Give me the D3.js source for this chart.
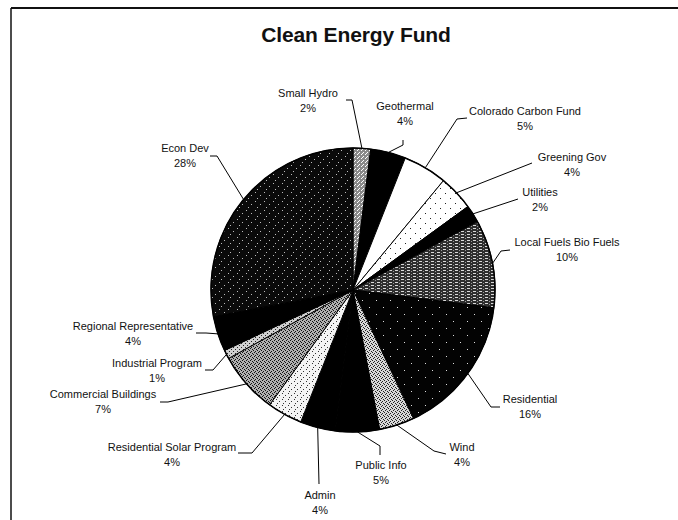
<!DOCTYPE html>
<html>
<head>
<meta charset="utf-8">
<script src="https://cdn.jsdelivr.net/npm/d3@7"></script>
<style>
  html, body { margin: 0; padding: 0; background: #fff; }
  svg { display: block; }
  text { font-family: "Liberation Sans", Arial, Helvetica, sans-serif; fill: #111; }
</style>
</head>
<body>
<svg id="chart" width="678" height="520"></svg>
<script>
// ---- data ----
const categories = ["Small Hydro", "Geothermal", "Colorado Carbon Fund", "Greening Gov", "Utilities",
  "Local Fuels Bio Fuels", "Residential", "Wind", "Public Info", "Admin",
  "Residential Solar Program", "Commercial Buildings", "Industrial Program",
  "Regional Representative", "Econ Dev"];
const values = [2, 4, 5, 4, 2, 10, 16, 4, 5, 4, 4, 7, 1, 4, 28];
const percentLabels = ["2%", "4%", "5%", "4%", "2%", "10%", "16%", "4%", "5%", "4%", "4%", "7%", "1%", "4%", "28%"];
const title = "Clean Energy Fund";

// ---- styles / layout (not data) ----
const fills = ["url(#pSmallHydro)", "#000", "#fff", "url(#pGreening)", "#000",
  "url(#pLocal)", "url(#pResid)", "url(#pWind)", "#000", "#000",
  "url(#pSolar)", "url(#pCommercial)", "url(#pIndustrial)", "#000", "url(#pEcon)"];
// label text center x, first baseline y, leader polyline start points (end computed on pie edge)
const labelLayout = [
  {x: 308, y: 97,  pts: [[346,100],[352,100]]},
  {x: 405, y: 110, pts: [[403,140],[403,145]]},
  {x: 525, y: 115, pts: [[467,118],[457,119]]},
  {x: 572, y: 161, pts: [[532,163]]},
  {x: 540, y: 196, pts: [[518,199]]},
  {x: 567, y: 246, pts: [[510,250],[501,251]]},
  {x: 530, y: 403, pts: [[500,407],[491,407]]},
  {x: 462, y: 451, pts: [[446,454],[434,451]]},
  {x: 381, y: 469, pts: [[380,455],[380,446]]},
  {x: 320, y: 499, pts: [[319,484]]},
  {x: 172, y: 451, pts: [[238,453],[252,453]]},
  {x: 103, y: 398, pts: [[160,402],[168,402]]},
  {x: 157, y: 367, pts: [[205,370],[213,370]]},
  {x: 133, y: 330, pts: [[196,333],[206,333]]},
  {x: 185, y: 152, pts: [[210,156],[217,156]]}
];

const W = 678, H = 520;
const cx = 353, cy = 290, R = 142;

const svg = d3.select("#chart");

// ---- patterns (stipple textures) ----
const defs = svg.append("defs");
function makeDots(id, size, bg, fg, dots, r) {
  const p = defs.append("pattern").attr("id", id).attr("patternUnits", "userSpaceOnUse")
    .attr("width", size).attr("height", size);
  p.append("rect").attr("width", size).attr("height", size).attr("fill", bg);
  dots.forEach(([x, y]) => p.append("rect").attr("x", x).attr("y", y)
    .attr("width", r).attr("height", r).attr("fill", fg));
}
makeDots("pEcon", 9, "#0a0a0a", "#bbb", [[1,1],[6,4],[3,7]], 1);
makeDots("pResid", 14, "#030303", "#ddd", [[2,3],[9,10]], 1);
makeDots("pSmallHydro", 4, "#8a8a8a", "#fff", [[0,0],[2,2],[1,3]], 1);
makeDots("pWind", 4, "#d8d8d8", "#222", [[0,0],[2,1],[1,3],[3,2]], 1);
makeDots("pCommercial", 4, "#b0b0b0", "#111", [[0,0],[2,1],[1,2],[3,3]], 1);
makeDots("pIndustrial", 4, "#d0d0d0", "#222", [[0,1],[2,3]], 1);
makeDots("pSolar", 6, "#f4f4f4", "#333", [[1,1],[4,3],[2,5]], 1);
makeDots("pGreening", 10, "#fff", "#222", [[2,3],[7,8]], 1);
// Local fuels: dark grey with horizontal white streaks
(function () {
  const p = defs.append("pattern").attr("id", "pLocal").attr("patternUnits", "userSpaceOnUse")
    .attr("width", 6).attr("height", 3);
  p.append("rect").attr("width", 6).attr("height", 3).attr("fill", "#2e2e2e");
  p.append("rect").attr("x", 0).attr("y", 1).attr("width", 3).attr("height", 1).attr("fill", "#d8d8d8");
  p.append("rect").attr("x", 4).attr("y", 2).attr("width", 1).attr("height", 1).attr("fill", "#999");
})();

// ---- frame ----
svg.append("line").attr("x1", 11).attr("y1", 8).attr("x2", W).attr("y2", 8)
  .attr("stroke", "#111").attr("stroke-width", 2);
svg.append("line").attr("x1", 11).attr("y1", 8).attr("x2", 11).attr("y2", H)
  .attr("stroke", "#111").attr("stroke-width", 1.5);

// ---- title ----
svg.append("text").attr("x", 356).attr("y", 42).attr("text-anchor", "middle")
  .attr("font-size", 21).attr("font-weight", "bold").attr("letter-spacing", "-0.1")
  .text(title);

// ---- pie ----
const pie = d3.pie().sort(null).value(d => d)
  .startAngle(0).endAngle(2 * Math.PI);
const arcs = pie(values);
const arc = d3.arc().innerRadius(0).outerRadius(R);

const g = svg.append("g").attr("transform", `translate(${cx},${cy})`);
g.selectAll("path.slice").data(arcs).enter().append("path")
  .attr("class", "slice")
  .attr("d", arc)
  .attr("fill", (d, i) => fills[i])
  .attr("stroke", "#000").attr("stroke-width", 1);
g.append("circle").attr("r", R).attr("fill", "none").attr("stroke", "#000").attr("stroke-width", 1.5);

// ---- leaders ----
const line = d3.line();
arcs.forEach((d, i) => {
  const mid = (d.startAngle + d.endAngle) / 2;
  const edge = [cx + R * Math.sin(mid), cy - R * Math.cos(mid)];
  const pts = labelLayout[i].pts.concat([edge]);
  svg.append("path").attr("d", line(pts)).attr("fill", "none")
    .attr("stroke", "#000").attr("stroke-width", 1);
});

// ---- labels ----
categories.forEach((name, i) => {
  const L = labelLayout[i];
  const t = svg.append("text").attr("text-anchor", "middle").attr("font-size", 11);
  t.append("tspan").attr("x", L.x).attr("y", L.y).text(name);
  t.append("tspan").attr("x", L.x).attr("y", L.y + 15).text(percentLabels[i]);
});
</script>
</body>
</html>
